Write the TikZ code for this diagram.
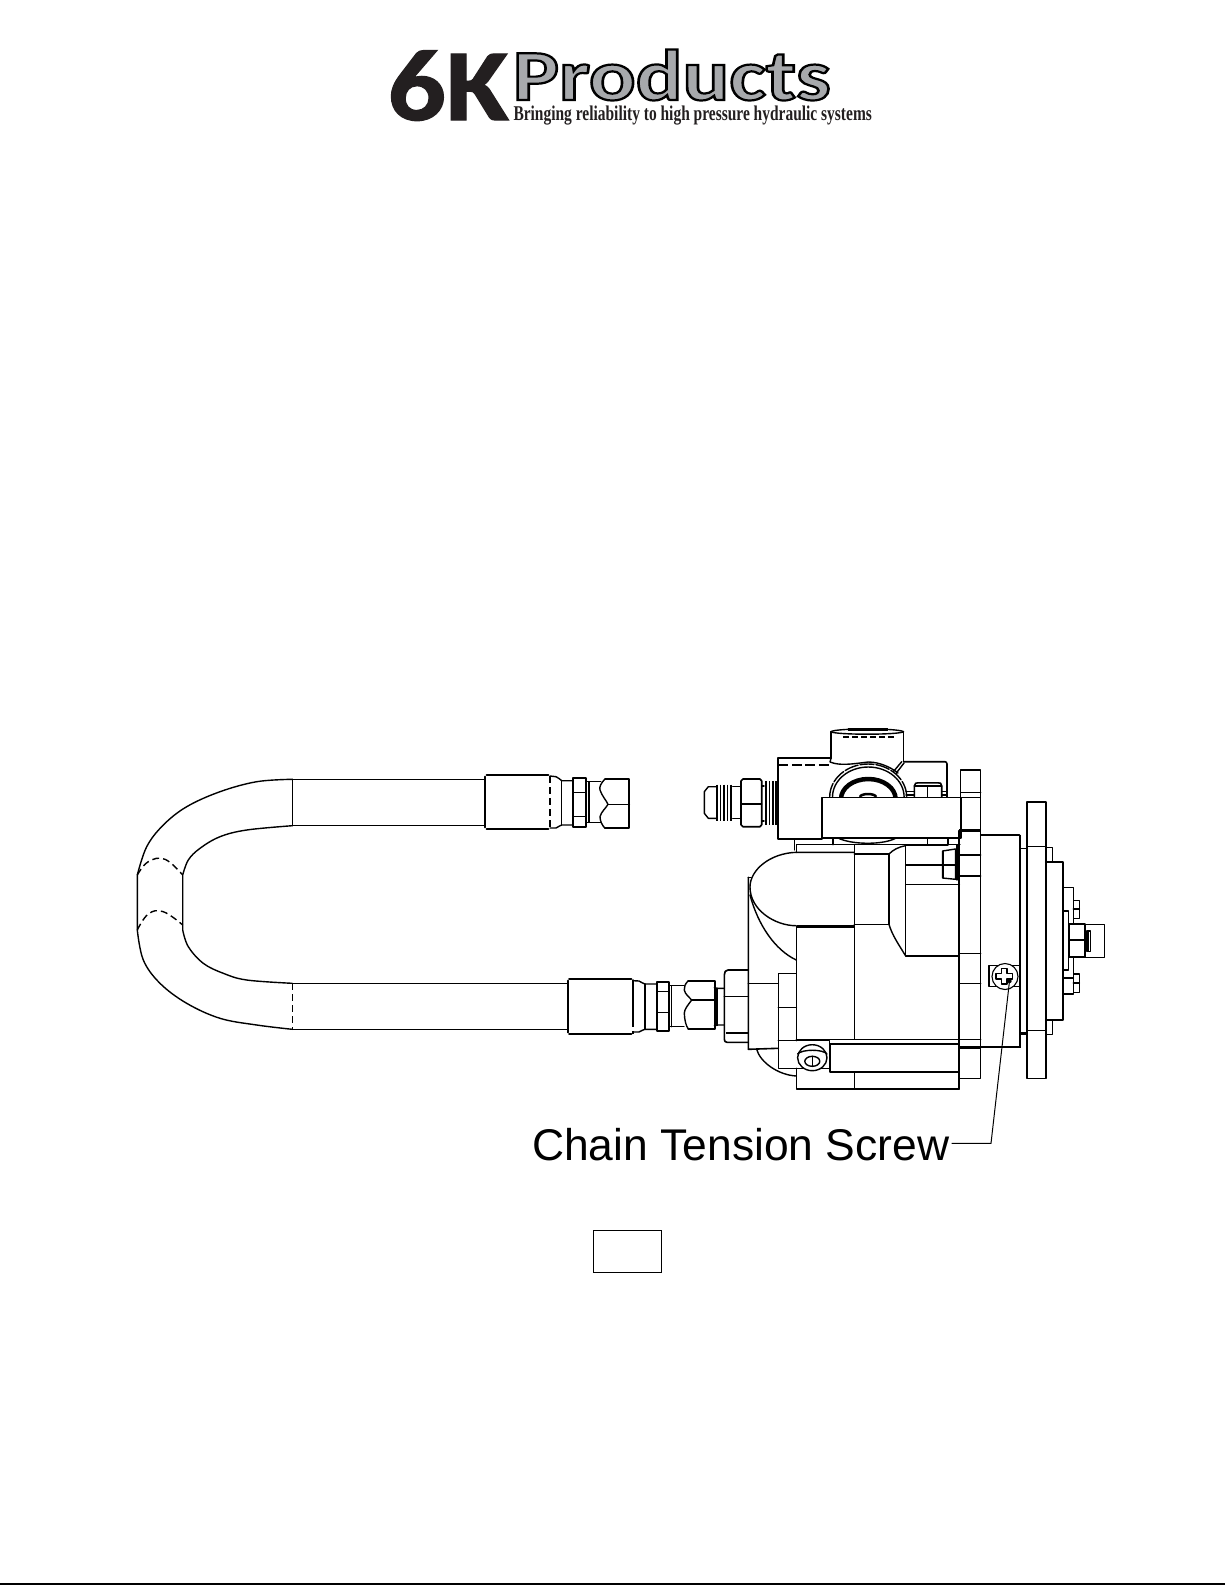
\documentclass[tikz,border=0pt]{standalone}
\usepackage{fontspec}
\usepackage{graphicx}
\setmainfont{Liberation Sans}
\newfontfamily\logofont{Carlito}
\newfontfamily\tagfont{Liberation Serif}
\definecolor{logogray}{HTML}{A7A9AC}
\definecolor{logoblack}{HTML}{231F20}
\tikzset{
  ln/.style={line width=1.4pt,draw=black,line cap=round,line join=round},
  thk/.style={line width=2.8pt,draw=black},
  thn/.style={line width=1pt,draw=black},
  whitefill/.style={ln,fill=white},
  dsh/.style={ln,dash pattern=on 7pt off 4pt,line cap=butt},
  thread/.style={line width=1.9pt,draw=black},
}
\begin{document}
\begin{tikzpicture}[x=1pt,y=-1pt]
\useasboundingbox (0,0) rectangle (1225,1585);
\fill[white] (0,0) rectangle (1225,1585);
\fill[black] (0,1583.4) rectangle (1225,1585);

% ---------- logo
\node[anchor=base west,inner sep=0pt,text=logoblack] (six) at (387.5,120) {\resizebox{121pt}{\height}{\logofont\bfseries\fontsize{102}{102}\selectfont\special{pdf:code 2 Tr 1.2 w 0.137 0.122 0.125 RG}6K\special{pdf:code 0 Tr}}};
\node[anchor=base west,inner sep=0pt,text=logogray] (prod) at (512.5,100) {\resizebox{318pt}{\height}{\logofont\bfseries\fontsize{72}{72}\selectfont\special{pdf:code 2 Tr 2.2 w 0 0 0 RG}Products\special{pdf:code 0 Tr}}};
\node[anchor=base west,inner sep=0pt,text=logoblack] (tag) at (513.3,120) {\resizebox{358.4pt}{\height}{\tagfont\bfseries\fontsize{21}{21}\selectfont Bringing reliability to high pressure hydraulic systems}};

% ---------- hose
\draw[ln] plot[smooth,tension=0.6] coordinates {(292.3,779.3)(256.7,781.7)(220,791.7)(186.7,806.7)(163.3,825)(146.7,846.7)(137.3,875)}
  -- (137.3,930) plot[smooth,tension=0.6] coordinates {(137.3,930)(143.3,960)(160,983.3)(186.7,1003.3)(220,1018.3)(256.7,1025)(292.3,1029.3)};
\draw[ln] plot[smooth,tension=0.6] coordinates {(292.3,825.7)(246.7,830)(220,836.7)(200,848.3)(188.3,860)(182.7,875)}
  -- (182.7,930) plot[smooth,tension=0.6] coordinates {(182.7,930)(188.3,946.7)(203.3,963.3)(223.3,973.3)(246.7,980)(292.3,983.3)};
\draw[dsh] plot[smooth,tension=0.7] coordinates {(137.3,875)(148.3,861.7)(165,859.3)(182.7,875)};
\draw[dsh] plot[smooth,tension=0.7] coordinates {(137.3,930)(148.3,914)(163.3,911.7)(182.7,925)};
\draw[ln] (292.3,779.3) -- (292.3,825.7);
\draw[dsh] (292.3,983.3) -- (292.3,1029.3);
\draw[ln] (292.3,779.3) -- (485,779.3) (292.3,825.7) -- (485,825.7);
\draw[ln] (292.3,983.3) -- (567.7,983.3) (292.3,1029.3) -- (567.7,1029.3);

% ---------- upper hose fitting
\draw[ln,line width=1.7pt] (486.5,775) -- (548.5,775) (486.5,829) -- (548.5,829);
\draw[ln,line width=1.7pt] (485,776.5) -- (485,827.5);
\draw[dsh,line width=1.7pt] (550,776) -- (550,828);
\draw[ln] (550,776) -- (556,776.7) .. controls (559,777.5) and (560,780) .. (561.7,780.7) -- (573.3,780.7);
\draw[ln] (550,828) -- (556,828) .. controls (559,827) and (560,825) .. (561.7,825) -- (573.3,825);
\draw[ln] (561.7,780.7) -- (561.7,825);
\draw[ln,line width=1.7pt] (573.3,777.7) rectangle (585.7,826.7);
\draw[ln] (573.3,792.3) -- (585.7,792.3) (573.3,816.7) -- (585.7,816.7);
\draw[ln] (585.7,781.7) -- (600.7,781.7) (585.7,822.3) -- (600.7,822.3);
\draw[ln] (589,781.7) -- (589,822.3);
\draw[ln,line width=1.7pt] (605,779) -- (629.3,779) -- (629.3,828.3) -- (605,828.3);
\draw[ln] (605,779) .. controls (601,783) and (599,787) .. (600,790) .. controls (602,796) and (606,800) .. (608,804.3) .. controls (606,808) and (601,812) .. (600,816.7) .. controls (600,821) and (602,825) .. (605,828.3);
\draw[ln] (608,804.3) -- (629.3,804.3);

% ---------- lower hose fitting
\draw[ln,line width=1.7pt] (569,979) -- (631.5,979) (569,1034) -- (631.5,1034);
\draw[ln,line width=1.9pt] (567.7,980.5) -- (567.7,1032.5);
\draw[ln,line width=1.7pt] (633.3,980) -- (633.3,1020);
\draw[dsh,line width=1.7pt] (633.3,1020) -- (633.3,1034);
\draw[ln] (633.3,980.7) -- (639,981) .. controls (642,982) and (643,984) .. (645,984) -- (656.7,984);
\draw[ln] (633.3,1032) -- (639,1032) .. controls (642,1031) and (643,1029.3) .. (645,1029.3) -- (656.7,1029.3);
\draw[ln] (645,984) -- (645,1029.3);
\draw[ln,line width=1.7pt] (656.7,982.3) rectangle (669,1030.7);
\draw[ln] (656.7,991.7) -- (669,991.7) (656.7,1012.3) -- (669,1012.3);
\draw[ln] (669,985.7) -- (684,985.7) (669,1026.7) -- (684,1026.7);
\draw[ln] (671.7,985.7) -- (671.7,1026.7);
\draw[ln,line width=1.7pt] (688.3,980.7) -- (715,980.7) -- (715,1029) -- (688.3,1029);
\draw[ln] (688.3,980.7) .. controls (685,984) and (684,987) .. (684.3,990) .. controls (685,994) and (689,997) .. (691.7,1000) .. controls (688,1005) and (684.5,1009) .. (684.3,1013) .. controls (684.5,1020) and (686,1026) .. (688.3,1029);
\draw[ln] (691.7,1000) -- (715,1000);
\draw[thk] (716.5,987.7) -- (716.5,1025.7);
\draw[ln] (714.3,987.7) -- (718,988.3) -- (724,988.3) (714.3,1025.7) -- (718,1025) -- (724,1025);

% ---------- ring behind the block
\draw[ln] (831,758.3) -- (830,762) .. controls (840,766) and (852,764) .. (868.3,762) .. controls (880,762) and (892,768) .. (898,773);
\draw[ln,dash pattern=on 14pt off 2pt] (829.7,797) arc[start angle=180,end angle=360,x radius=38.5,y radius=33];
\draw[ln] (832.5,797) arc[start angle=180,end angle=360,x radius=35.8,y radius=30];
\draw[line width=4.5pt,draw=black] (841,799) arc[start angle=180,end angle=360,x radius=27.3,y radius=20];
\draw[line width=2.5pt,draw=black] (860,797) arc[start angle=180,end angle=360,x radius=8,y radius=3];
\draw[ln] (838,838) .. controls (852,845) and (884,845) .. (896,838);

% ---------- valve body
\draw[ln,line width=1.7pt] (831,758.3) -- (778.3,758.3) -- (778.3,839) -- (822,839);
\draw[line width=2.2pt] (779,758) -- (831,758);
\draw[dsh,dash pattern=on 10pt off 3.5pt] (778.3,765) -- (829,765);
\draw[ln,line width=1.7pt] (831,758.3) -- (831,731.7) (903.5,731.7) -- (903.5,761);
\draw[ln] (831,731.7) .. controls (835,728) and (899,728) .. (903.5,731.7);
\draw[ln] (831,731.7) .. controls (835,735) and (899,735) .. (903.5,731.7);
\draw[line width=2.6pt] (848,729.6) -- (888,729.6);
\draw[dsh,dash pattern=on 6pt off 3pt] (843,737) -- (896,737);
\draw[ln] (893.3,771.7) -- (901.7,761.7) (896,773.5) -- (904,763);
\draw[ln,line width=1.6pt] (903.5,761.7) -- (945,761.7) .. controls (946,761.7) and (947,762.5) .. (947,764) -- (947,797);
\draw[ln] (906,795) -- (914.3,795) (906,791.5) -- (914.3,791.5);
\draw[ln] (941.7,795) -- (947,795) (941.7,791.5) -- (947,791.5);
\draw[ln,line width=1.6pt] (914.3,797) -- (914.3,786) .. controls (915,783) and (916,782.8) .. (918,782.8) -- (938,782.8) .. controls (940,782.8) and (941.7,783) .. (941.7,786) -- (941.7,797);
\draw[ln] (927.3,786) -- (927.3,797) (914.3,786) -- (941.7,786);
% clamp block
\draw[whitefill,line width=1.6pt] (821.7,797.3) rectangle (960.7,837.7);

% ---------- AN fitting
\draw[ln] (716,786.7) -- (708.3,786.7) -- (704.3,791.7) -- (704.3,813.3) -- (708.3,818.3) -- (716,818.3);
\foreach \tx in {717,720.5,724,727.5,731}{\draw[thread] (\tx,784.5) -- (\tx,821);}
\draw[ln] (732.7,786.7) -- (741,786.7) (732.7,818.3) -- (741,818.3);
\draw[ln,line width=1.7pt] (743,779) -- (760,779) -- (761.7,781) -- (761.7,824.7) -- (760,826.7) -- (743,826.7) -- (741,824.7) -- (741,781) -- cycle;
\draw[ln] (741,804) -- (761.7,804);
\foreach \tx in {766,769.5,773,776}{\draw[thread] (\tx,781.3) -- (\tx,825);}
\draw[ln] (761.7,786) -- (764,786) (761.7,821) -- (764,821);

% ---------- pump housing top
\draw[ln] (794.3,839) -- (794.3,850);
\draw[ln] (796.7,852.3) -- (796.7,844.7) -- (960,844.7);
\draw[line width=2.2pt] (905,845) -- (948,845);
\draw[ln] (833,839) -- (833,844.7) (927.3,839) -- (927.3,844.7) (948,839) -- (948,845);
\draw[ln] (854.3,844.7) -- (854.3,1039);
\draw[ln] (854.3,854) -- (889,854);
\draw[ln] (889,854) -- (889,924.3) -- (854.3,924.3);
\draw[ln] (889,854) .. controls (893,850) and (898,847) .. (905.7,845.7);
\draw[ln] (889,924.3) .. controls (892,935) and (899,945) .. (905.7,956);
\draw[ln] (905.7,845) -- (905.7,956) -- (959.3,956);
\draw[ln] (905.7,865) -- (942,865) (905.7,884.3) -- (959.3,884.3);
% small bolt
\draw[whitefill] (942.5,851) -- (955.5,849) -- (955.5,879.3) -- (942.5,878) -- cycle;
\draw[line width=2pt] (942.5,851) -- (942.5,878);
\draw[ln] (942.5,865) -- (955.5,865);
\draw[ln] (957,844.7) -- (957,880);

% dome
\draw[ln,line width=1.6pt] (748.3,877.3) -- (748.3,1049.3) -- (778.3,1048.3);
\draw[ln] (748.3,877.3) -- (751,877.3);
\draw[ln] (854.3,852.3) -- (796.7,852.3) .. controls (770,853) and (750,870) .. (750,887) .. controls (750,910) and (775,925.7) .. (796,925.7);
\draw[thk] (796.7,926.7) -- (854.3,926.7);
\draw[ln] (750,895) .. controls (758,925) and (775,950) .. (796.3,960);
\draw[ln] (796.3,926) -- (796.3,1040.7);

% ---------- pump left lower
\draw[ln] (748.3,983.3) -- (778.3,983.3);
\draw[ln] (778.3,973.3) rectangle (796.3,1040.7);
\draw[ln] (778.3,1007.7) -- (796.3,1007.7);
\draw[ln,line width=1.6pt] (748.3,970) -- (728,970) .. controls (725.5,970) and (724.3,972) .. (724.3,975) -- (724.3,1039) .. controls (724.3,1041) and (725,1042.3) .. (727,1042.3) -- (748.3,1042.3);
\draw[ln] (724.3,996.7) -- (748.3,996.7);
\draw[line width=2.2pt] (726,1032.7) -- (748.3,1032.7);
% lower housing
\draw[ln,line width=1.6pt] (796.3,1039.3) -- (959.3,1039.3);
\draw[ln] (778.3,1040.7) -- (829.7,1040.7) -- (829.7,1068.3) -- (778.3,1068.3) -- (778.3,1040.7);
\draw[ln,line width=1.6pt] (829.7,1044) rectangle (959.3,1071.7);
\draw[ln] (796.3,1068.3) -- (796.3,1089) -- (959.3,1089) -- (959.3,1071.7);
\draw[ln] (854.3,1071.7) -- (854.3,1089);
\draw[ln] (756.7,1049.3) .. controls (760,1062) and (778,1075) .. (796.3,1076);
% cap screw
\draw[whitefill] (812.3,1057.7) ellipse[x radius=14.7,y radius=13];
\draw[ln] (797.6,1054) .. controls (802,1049) and (823,1049) .. (827,1054);
\draw[ln] (812.3,1061.3) ellipse[x radius=7.5,y radius=5];
\draw[ln] (812.3,1056.3) -- (812.3,1066.3);

% ---------- flange plates
\draw[ln,line width=1.7pt] (959.3,830.7) -- (959.3,1088.3);
\draw[ln] (960.7,770) rectangle (980.7,797.3);
\draw[ln] (960.7,792.3) -- (980.7,792.3);
\draw[ln] (980.7,797.3) -- (980.7,1078.3) -- (959.3,1078.3);
\draw[thk] (959.3,830.7) -- (980.7,830.7);
\draw[thk] (959.3,1047.7) -- (980.7,1047.7);
\draw[ln] (959.3,855) -- (980.7,855) (959.3,876) -- (980.7,876);
\draw[ln] (959.3,953.3) -- (980.7,953.3) (959.3,983.3) -- (980.7,983.3);
\draw[ln] (959.3,1039.3) -- (980.7,1039.3);
\draw[ln,line width=1.6pt] (980.7,835) -- (1019.5,835);
\draw[ln,line width=1.6pt] (980.7,1046.7) -- (1020,1046.7);
\draw[line width=2.2pt] (1020,835) -- (1020,1047.5);
\draw[ln] (1020,848.3) -- (1026.7,848.3);
\draw[thk] (1020,1033.3) -- (1026.7,1033.3);
\draw[ln,line width=1.6pt] (1026.7,802) rectangle (1045.7,1078.3);
\draw[ln] (1026.7,846.7) -- (1045.7,846.7) (1026.7,1030.7) -- (1045.7,1030.7);
\draw[ln] (1045.7,847.7) -- (1052.7,847.7) -- (1052.7,861.7);
\draw[ln] (1045.7,1034.3) -- (1052.7,1034.3) -- (1052.7,1020);
\draw[ln,line width=1.6pt] (1045.7,861.7) -- (1062.7,861.7) -- (1062.7,1020) -- (1045.7,1020);
\draw[ln] (1062.7,887.7) -- (1073.3,887.7) -- (1073.3,994) -- (1062.7,994);
\draw[ln] (1062.7,911) -- (1068.3,911) -- (1068.3,970) -- (1062.7,970);
\draw[ln] (1062.7,978) -- (1073.3,978);
\draw[ln] (1073.3,900.7) rectangle (1079.3,918.3);
\draw[ln] (1073.3,909) -- (1079.3,909) (1073.3,974) rectangle (1079.3,992.7);
\draw[ln] (1073.3,983) -- (1079.3,983);
\draw[whitefill,line width=1.7pt] (1069,924.3) rectangle (1085,957.3);
\draw[ln] (1069,940) -- (1085,940);
\draw[ln,line width=1.6pt] (1085,924.3) rectangle (1104.3,957.3);
\draw[line width=2.2pt] (1088,931) -- (1088,951);
\draw[ln] (1087,931) rectangle (1090.7,951.7);

% ---------- chain tension screw
\draw[ln] (989,965.7) rectangle (1019.5,986.7);
\draw[whitefill,line width=1.1pt] (1005,976.5) circle[radius=13];
\draw[ln,line width=1.5pt] (1001.5,968.5) -- (1007,968.5) -- (1007,973.5) -- (1012.5,973.5) -- (1012.5,979) -- (1007,979) -- (1007,984) -- (1001.5,984) -- (1001.5,979) -- (996,979) -- (996,973.5) -- (1001.5,973.5) -- cycle;
\fill (1009.5,981) circle[radius=2.2];

% ---------- label and leader
\node[anchor=base west,inner sep=0pt,text=black] (lbl) at (532,1160) {\fontsize{44.4}{50}\selectfont Chain Tension Screw};
\coordinate (scr) at (1009.5,981);
\coordinate (bend) at (991,1143.3);
\coordinate (lblend) at (951.7,1143.3);
\draw[thn] (lblend) -- (bend) -- (scr);

% ---------- empty box
\node[draw=black,line width=1.4pt,inner sep=0pt,minimum width=68.4pt,minimum height=42pt] (box) at (627.5,1251.3) {};
\end{tikzpicture}
\end{document}
